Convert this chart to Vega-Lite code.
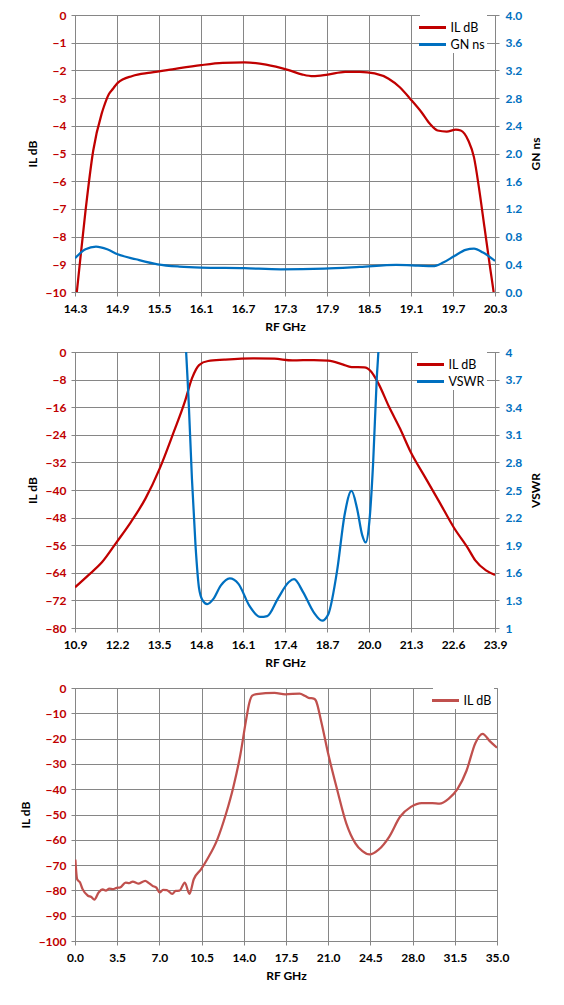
{
  "$schema": "https://vega.github.io/schema/vega-lite/v6.json",
  "padding": {"left": 18, "top": 8, "right": 5, "bottom": 5},
  "datasets": {
    "p1il": [
      {"f": 14.3, "v": -10.6}, {"f": 14.326, "v": -10}, {"f": 14.45, "v": -7.07}, {"f": 14.56, "v": -4.9},
      {"f": 14.68, "v": -3.57}, {"f": 14.71, "v": -3.33}, {"f": 14.785, "v": -2.85}, {"f": 14.84, "v": -2.67},
      {"f": 14.91, "v": -2.45}, {"f": 15.12, "v": -2.2}, {"f": 15.38, "v": -2.08}, {"f": 15.69, "v": -1.96},
      {"f": 16.1, "v": -1.81}, {"f": 16.41, "v": -1.73}, {"f": 16.72, "v": -1.71}, {"f": 17.03, "v": -1.79},
      {"f": 17.34, "v": -1.98}, {"f": 17.55, "v": -2.15}, {"f": 17.7, "v": -2.21}, {"f": 17.91, "v": -2.15},
      {"f": 18.16, "v": -2.05}, {"f": 18.37, "v": -2.05}, {"f": 18.58, "v": -2.11}, {"f": 18.78, "v": -2.3},
      {"f": 18.94, "v": -2.61}, {"f": 19.09, "v": -3.03}, {"f": 19.25, "v": -3.51}, {"f": 19.37, "v": -3.93},
      {"f": 19.48, "v": -4.17}, {"f": 19.61, "v": -4.21}, {"f": 19.74, "v": -4.14}, {"f": 19.81, "v": -4.17},
      {"f": 19.92, "v": -4.54}, {"f": 20.0, "v": -5.14}, {"f": 20.07, "v": -6.22}, {"f": 20.15, "v": -7.67},
      {"f": 20.23, "v": -9.12}, {"f": 20.28, "v": -10}, {"f": 20.3, "v": -10.4}
    ],
    "p1gn": [
      {"f": 14.3, "v": 0.487}, {"f": 14.45, "v": 0.618}, {"f": 14.6, "v": 0.656}, {"f": 14.76, "v": 0.618},
      {"f": 14.91, "v": 0.545}, {"f": 15.17, "v": 0.473}, {"f": 15.48, "v": 0.4}, {"f": 15.79, "v": 0.367},
      {"f": 16.1, "v": 0.352}, {"f": 16.72, "v": 0.343}, {"f": 17.24, "v": 0.328}, {"f": 17.86, "v": 0.338},
      {"f": 18.37, "v": 0.362}, {"f": 18.89, "v": 0.39}, {"f": 19.2, "v": 0.38}, {"f": 19.41, "v": 0.372},
      {"f": 19.56, "v": 0.425}, {"f": 19.72, "v": 0.52}, {"f": 19.88, "v": 0.608}, {"f": 20.0, "v": 0.627},
      {"f": 20.13, "v": 0.569}, {"f": 20.3, "v": 0.449}
    ],
    "p2il": [
      {"f": 10.9, "v": -68.2}, {"f": 11.3, "v": -64.8}, {"f": 11.74, "v": -60.9}, {"f": 12.19, "v": -55.1},
      {"f": 12.63, "v": -49.3}, {"f": 13.08, "v": -42.5}, {"f": 13.52, "v": -33.8}, {"f": 13.96, "v": -23.1},
      {"f": 14.3, "v": -14.4}, {"f": 14.52, "v": -7.65}, {"f": 14.74, "v": -3.78}, {"f": 15.02, "v": -2.61},
      {"f": 15.52, "v": -2.23}, {"f": 16.41, "v": -1.84}, {"f": 17.07, "v": -1.94}, {"f": 17.63, "v": -2.42},
      {"f": 18.29, "v": -2.32}, {"f": 18.74, "v": -2.52}, {"f": 19.18, "v": -3.58}, {"f": 19.46, "v": -4.36},
      {"f": 19.85, "v": -4.45}, {"f": 20.07, "v": -5.71}, {"f": 20.29, "v": -9.1}, {"f": 20.62, "v": -15.9},
      {"f": 20.96, "v": -22.2}, {"f": 21.29, "v": -29.0}, {"f": 21.73, "v": -36.2}, {"f": 22.18, "v": -43.5},
      {"f": 22.62, "v": -50.8}, {"f": 23.07, "v": -57.0}, {"f": 23.29, "v": -60.4}, {"f": 23.62, "v": -63.3},
      {"f": 23.9, "v": -64.6}
    ],
    "p2vswr": [
      {"f": 14.3, "v": 4.3}, {"f": 14.34, "v": 4.0}, {"f": 14.41, "v": 3.53}, {"f": 14.52, "v": 2.62},
      {"f": 14.63, "v": 1.9}, {"f": 14.74, "v": 1.43}, {"f": 14.85, "v": 1.3}, {"f": 14.99, "v": 1.26},
      {"f": 15.19, "v": 1.32}, {"f": 15.41, "v": 1.46}, {"f": 15.69, "v": 1.54}, {"f": 15.96, "v": 1.48},
      {"f": 16.3, "v": 1.24}, {"f": 16.63, "v": 1.12}, {"f": 16.85, "v": 1.13}, {"f": 17.18, "v": 1.32},
      {"f": 17.52, "v": 1.5}, {"f": 17.68, "v": 1.53}, {"f": 17.96, "v": 1.39}, {"f": 18.29, "v": 1.17},
      {"f": 18.55, "v": 1.08}, {"f": 18.74, "v": 1.15}, {"f": 19.02, "v": 1.64}, {"f": 19.24, "v": 2.22},
      {"f": 19.46, "v": 2.49}, {"f": 19.63, "v": 2.3}, {"f": 19.79, "v": 2.01}, {"f": 19.9, "v": 1.93},
      {"f": 20.01, "v": 2.15}, {"f": 20.13, "v": 2.81}, {"f": 20.24, "v": 3.71}, {"f": 20.29, "v": 4.0},
      {"f": 20.33, "v": 4.3}
    ],
    "p3il": [
      {"f": 0.03, "v": -67.8}, {"f": 0.18, "v": -75.6}, {"f": 0.42, "v": -76.9}, {"f": 0.63, "v": -79.5},
      {"f": 1.07, "v": -82.1}, {"f": 1.35, "v": -82.6}, {"f": 1.61, "v": -83.6}, {"f": 1.96, "v": -80.8},
      {"f": 2.3, "v": -79.6}, {"f": 2.56, "v": -80.1}, {"f": 2.85, "v": -79.3}, {"f": 3.15, "v": -79.5},
      {"f": 3.45, "v": -79.0}, {"f": 3.75, "v": -78.8}, {"f": 4.2, "v": -76.9}, {"f": 4.5, "v": -77.1},
      {"f": 4.79, "v": -76.5}, {"f": 5.24, "v": -77.3}, {"f": 5.83, "v": -76.2}, {"f": 6.1, "v": -77.0},
      {"f": 6.43, "v": -78.2}, {"f": 6.75, "v": -78.9}, {"f": 7.02, "v": -80.8}, {"f": 7.3, "v": -79.8},
      {"f": 7.62, "v": -79.9}, {"f": 8.07, "v": -81.4}, {"f": 8.35, "v": -80.2}, {"f": 8.66, "v": -80.1},
      {"f": 9.11, "v": -76.9}, {"f": 9.49, "v": -81.4}, {"f": 9.85, "v": -75.6}, {"f": 10.45, "v": -71.7},
      {"f": 11.04, "v": -67.1}, {"f": 11.79, "v": -60.0}, {"f": 12.53, "v": -49.6}, {"f": 13.13, "v": -39.2},
      {"f": 13.72, "v": -26.2}, {"f": 14.17, "v": -13.2}, {"f": 14.45, "v": -6.0}, {"f": 14.7, "v": -3.0},
      {"f": 15.06, "v": -2.4}, {"f": 16.55, "v": -1.9}, {"f": 17.44, "v": -2.5}, {"f": 18.63, "v": -2.2},
      {"f": 19.1, "v": -3.2}, {"f": 19.38, "v": -3.9}, {"f": 19.8, "v": -4.2}, {"f": 19.97, "v": -4.9},
      {"f": 20.42, "v": -13.2}, {"f": 21.01, "v": -26.2}, {"f": 21.76, "v": -40.5},
      {"f": 22.5, "v": -53.5}, {"f": 23.24, "v": -61.3}, {"f": 23.84, "v": -64.5}, {"f": 24.43, "v": -65.8},
      {"f": 25.18, "v": -63.9}, {"f": 26.07, "v": -58.7}, {"f": 26.96, "v": -50.9}, {"f": 27.86, "v": -47.0},
      {"f": 28.75, "v": -45.5}, {"f": 29.64, "v": -45.5}, {"f": 30.24, "v": -45.7}, {"f": 30.98, "v": -43.8},
      {"f": 31.73, "v": -39.9}, {"f": 32.47, "v": -32.7}, {"f": 33.21, "v": -21.7}, {"f": 33.81, "v": -18.1},
      {"f": 34.4, "v": -21.0}, {"f": 35.0, "v": -23.6}
    ]
  },
  "bounds": "flush",
  "spacing": 60,
  "resolve": {"scale": {"color": "independent"}, "legend": {"color": "independent"}},
  "vconcat": [
    {
      "width": 420,
      "height": 277,
      "layer": [
        {
          "data": {"name": "p1il"},
          "mark": {"type": "line", "strokeWidth": 2.25, "clip": true, "interpolate": "monotone"},
          "encoding": {
            "x": {"field": "f", "type": "quantitative", "scale": {"domain": [14.3, 20.3], "nice": false, "zero": false},
              "axis": {"values": [14.3, 14.9, 15.5, 16.1, 16.7, 17.3, 17.9, 18.5, 19.1, 19.7, 20.3], "format": ".1f", "title": "RF GHz"}},
            "y": {"field": "v", "type": "quantitative", "scale": {"domain": [-10, 0], "nice": false, "zero": false},
              "axis": {"orient": "left", "values": [0, -1, -2, -3, -4, -5, -6, -7, -8, -9, -10], "title": "IL dB", "labelColor": "#C00000"}},
            "color": {"datum": "IL dB", "type": "nominal", "scale": {"domain": ["IL dB", "GN ns"], "range": ["#C00000", "#0070C0"]},
              "legend": {"orient": "none", "legendX": 345, "legendY": 0}}
          }
        },
        {
          "data": {"name": "p1gn"},
          "mark": {"type": "line", "strokeWidth": 2.25, "clip": true, "interpolate": "monotone"},
          "encoding": {
            "x": {"field": "f", "type": "quantitative"},
            "y": {"field": "v", "type": "quantitative", "scale": {"domain": [0, 4], "nice": false},
              "axis": {"orient": "right", "values": [0, 0.4, 0.8, 1.2, 1.6, 2.0, 2.4, 2.8, 3.2, 3.6, 4.0], "format": ".1f", "title": "GN ns", "grid": false, "labelColor": "#0070C0"}},
            "color": {"datum": "GN ns", "type": "nominal", "scale": {"domain": ["IL dB", "GN ns"], "range": ["#C00000", "#0070C0"]}}
          }
        }
      ],
      "resolve": {"scale": {"y": "independent"}}
    },
    {
      "width": 420,
      "height": 276,
      "layer": [
        {
          "data": {"name": "p2il"},
          "mark": {"type": "line", "strokeWidth": 2.25, "clip": true, "interpolate": "monotone"},
          "encoding": {
            "x": {"field": "f", "type": "quantitative", "scale": {"domain": [10.9, 23.9], "nice": false, "zero": false},
              "axis": {"values": [10.9, 12.2, 13.5, 14.8, 16.1, 17.4, 18.7, 20.0, 21.3, 22.6, 23.9], "format": ".1f", "title": "RF GHz"}},
            "y": {"field": "v", "type": "quantitative", "scale": {"domain": [-80, 0], "nice": false, "zero": false},
              "axis": {"orient": "left", "values": [0, -8, -16, -24, -32, -40, -48, -56, -64, -72, -80], "title": "IL dB", "labelColor": "#C00000"}},
            "color": {"datum": "IL dB", "type": "nominal", "scale": {"domain": ["IL dB", "VSWR"], "range": ["#C00000", "#0070C0"]},
              "legend": {"orient": "none", "legendX": 343, "legendY": 0}}
          }
        },
        {
          "data": {"name": "p2vswr"},
          "mark": {"type": "line", "strokeWidth": 2.25, "clip": true, "interpolate": "monotone"},
          "encoding": {
            "x": {"field": "f", "type": "quantitative"},
            "y": {"field": "v", "type": "quantitative", "scale": {"domain": [1, 4], "nice": false, "zero": false},
              "axis": {"orient": "right", "values": [1, 1.3, 1.6, 1.9, 2.2, 2.5, 2.8, 3.1, 3.4, 3.7, 4], "format": "~g", "title": "VSWR", "grid": false, "labelColor": "#0070C0"}},
            "color": {"datum": "VSWR", "type": "nominal", "scale": {"domain": ["IL dB", "VSWR"], "range": ["#C00000", "#0070C0"]}}
          }
        }
      ],
      "resolve": {"scale": {"y": "independent"}}
    },
    {
      "width": 422,
      "height": 253,
      "data": {"name": "p3il"},
      "mark": {"type": "line", "strokeWidth": 2.25, "clip": true, "interpolate": "monotone"},
      "encoding": {
        "x": {"field": "f", "type": "quantitative", "scale": {"domain": [0, 35], "nice": false},
          "axis": {"values": [0, 3.5, 7, 10.5, 14, 17.5, 21, 24.5, 28, 31.5, 35], "format": ".1f", "title": "RF GHz"}},
        "y": {"field": "v", "type": "quantitative", "scale": {"domain": [-100, 0], "nice": false},
          "axis": {"orient": "left", "values": [0, -10, -20, -30, -40, -50, -60, -70, -80, -90, -100], "title": "IL dB", "labelColor": "#C00000"}},
        "color": {"datum": "IL dB", "type": "nominal", "scale": {"domain": ["IL dB"], "range": ["#C0504D"]},
          "legend": {"orient": "none", "legendX": 358, "legendY": 0}}
      }
    }
  ],
  "config": {
    "font": "Lato",
    "view": {"stroke": "#868686", "strokeWidth": 1},
    "axis": {
      "gridColor": "#868686", "gridOpacity": 1, "domainColor": "#868686", "tickColor": "#868686",
      "tickSize": 4, "labelFontSize": 12, "labelFontWeight": "bold", "labelColor": "black",
      "labelFlush": false, "labelOverlap": false, "labelPadding": 5,
      "titleFontSize": 12, "titleFontWeight": "bold", "titleColor": "black", "titlePadding": 6
    },
    "axisLeft": {"titleAngle": 270},
    "axisRight": {"titleAngle": 270, "titlePadding": 21, "labelPadding": 6},
    "axisX": {"labelPadding": 7, "titlePadding": 7},
    "legend": {
      "title": null, "fillColor": "white", "padding": 2, "symbolType": "M-1.5,0H1.5", "symbolSize": 324,
      "symbolStrokeWidth": 3, "labelFontSize": 12.5, "labelColor": "black", "labelOffset": 7.5, "rowPadding": -3
    }
  }
}
